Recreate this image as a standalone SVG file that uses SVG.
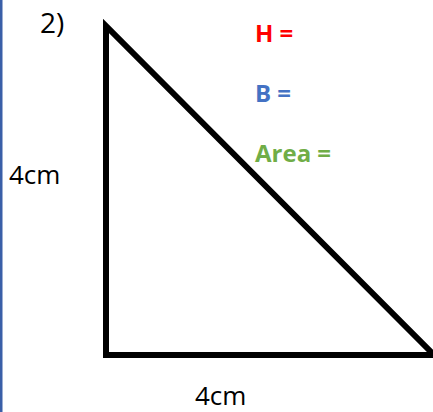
<svg xmlns="http://www.w3.org/2000/svg" width="433" height="412" viewBox="0 0 433 412">
<style>
.t{font-family:"Open Sans","Liberation Sans",sans-serif;}
.b{font-weight:bold;font-size:24px;}
</style>
<rect x="0" y="0" width="433" height="412" fill="#ffffff"/>
<rect x="0" y="0" width="2.5" height="412" fill="#3a5fa8"/>
<g id="triangle">
<polygon points="106,26 106,355 434,355" fill="none" stroke="#000" stroke-width="6" stroke-linejoin="miter" stroke-miterlimit="10"/>
</g>
<g id="labels">
<text class="t" x="40" y="33" font-size="28">2)</text>
<text class="t b" x="255" y="42" fill="#ff0000">H =</text>
<text class="t b" x="255" y="102" fill="#4472c4">B =</text>
<text class="t b" x="255" y="162" fill="#70ad47">Area =</text>
<text class="t" x="9" y="184" font-size="26">4cm</text>
<text class="t" x="195" y="405" font-size="26">4cm</text>
</g>
</svg>
